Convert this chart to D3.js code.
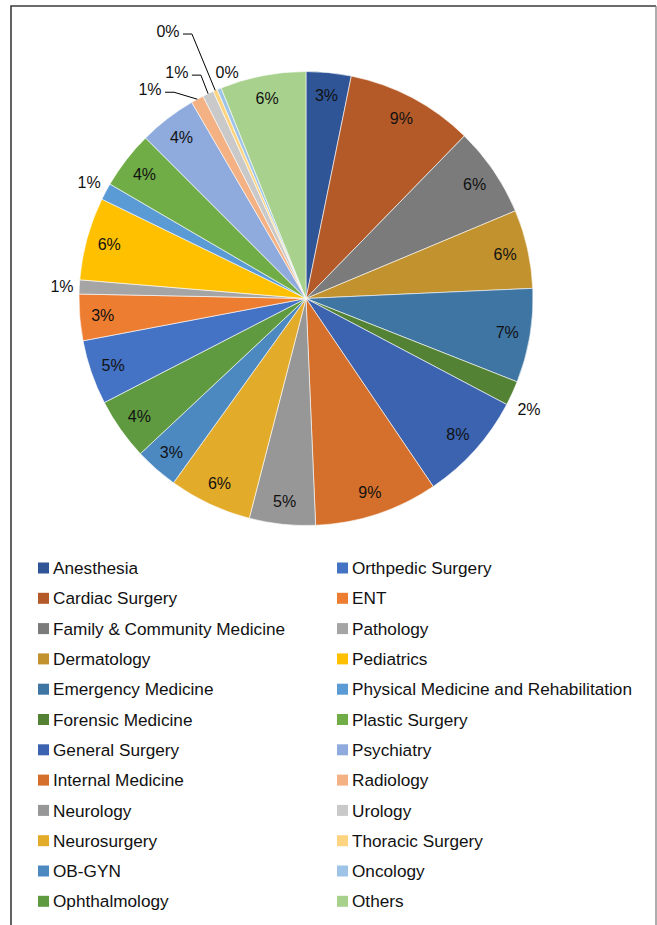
<!DOCTYPE html>
<html>
<head>
<meta charset="utf-8">
<script src="https://cdn.jsdelivr.net/npm/d3@7"></script>
<style>
  html, body { margin: 0; padding: 0; background: #fff; }
  svg { display: block; font-family: "Liberation Sans", Arial, sans-serif; }
</style>
</head>
<body>
<svg id="chart" width="657" height="925"></svg>
<script>
// ---- data ----
const categories = [
  "Anesthesia", "Cardiac Surgery", "Family & Community Medicine", "Dermatology",
  "Emergency Medicine", "Forensic Medicine", "General Surgery", "Internal Medicine",
  "Neurology", "Neurosurgery", "OB-GYN", "Ophthalmology",
  "Orthpedic Surgery", "ENT", "Pathology", "Pediatrics",
  "Physical Medicine and Rehabilitation", "Plastic Surgery", "Psychiatry", "Radiology",
  "Urology", "Thoracic Surgery", "Oncology", "Others"
];
const values = [
  3.2, 9.1, 6.4, 5.6,
  6.7, 1.75, 7.8, 8.8,
  4.7, 5.9, 3.1, 4.4,
  4.6, 3.3, 1.0, 5.9,
  1.2, 4.1, 4.1, 0.9,
  0.8, 0.3, 0.3, 6.1
];
const colors = [
  "#2F5597", "#B45A28", "#7B7B7B", "#C1922E",
  "#3E75A3", "#548235", "#3B63B0", "#D5702C",
  "#979797", "#E2AB29", "#4C89C1", "#5F9A40",
  "#4472C4", "#ED7D31", "#A5A5A5", "#FFC000",
  "#5B9BD5", "#70AD47", "#8FAADC", "#F4B183",
  "#C9C9C9", "#FFD480", "#9DC3E6", "#A9D18E"
];
// label placement style per category: "in" inside, "out" just outside, callouts use polar [deg, radius]
const labelMode = {
  "Forensic Medicine": "free", "Pathology": "out", "Physical Medicine and Rehabilitation": "out",
  "Radiology": "callout", "Urology": "callout", "Thoracic Surgery": "callout", "Oncology": "free"
};
const labelPolar = {
  "Forensic Medicine": [116.4, 249],
  "Radiology": [323.3, 261], "Urology": [330.3, 260.6],
  "Thoracic Surgery": [332.7, 301], "Oncology": [340.8, 240]
};

// ---- layout ----
const svg = d3.select("#chart");
const cx = 306, cy = 298.5, R = 227;
const data = categories.map((c, i) => ({ name: c, value: values[i], color: colors[i] }));
const total = d3.sum(values);
const fmt = d3.format(".0%");

// frame
svg.append("path").attr("d", "M11,925 V6 H656").attr("fill", "none")
  .attr("stroke", "#3c3c3c").attr("stroke-width", 1.6);
svg.append("path").attr("d", "M656,6 V925").attr("fill", "none")
  .attr("stroke", "#8a8a8a").attr("stroke-width", 1.4);

const pie = d3.pie().value(d => d.value).sort(null);
const arcs = pie(data);
const arc = d3.arc().innerRadius(0).outerRadius(R);
const g = svg.append("g").attr("transform", `translate(${cx},${cy})`);

g.selectAll("path.slice").data(arcs).join("path")
  .attr("class", "slice")
  .attr("d", arc)
  .attr("fill", d => d.data.color)
  .attr("stroke", "#ffffff")
  .attr("stroke-width", 0.6);

const polar = (deg, r) => {
  const a = deg * Math.PI / 180;
  return [r * Math.sin(a), -r * Math.cos(a)];
};

const lw = 24, lh = 14;
arcs.forEach(d => {
  const mid = (d.startAngle + d.endAngle) / 2;
  const midDeg = mid * 180 / Math.PI;
  const mode = labelMode[d.data.name] || "in";
  const txt = fmt(d.data.value / total);
  let x, y;
  if (mode === "in") {
    [x, y] = polar(midDeg, 204);
  } else if (mode === "out") {
    const r = R + 5 + (lw / 2) * Math.abs(Math.sin(mid)) + (lh / 2) * Math.abs(Math.cos(mid));
    [x, y] = polar(midDeg, r);
  } else {
    const p = labelPolar[d.data.name];
    [x, y] = polar(p[0], p[1]);
  }
  if (mode === "callout") {
    const [ex, ey] = polar(midDeg, R);
    const sx = x + lw / 2 + 3, ly = y + 3;
    g.append("path")
      .attr("d", `M${sx},${ly} H${sx + 9} L${ex},${ey}`)
      .attr("fill", "none").attr("stroke", "#000").attr("stroke-width", 1);
  }
  g.append("text")
    .attr("x", x).attr("y", y)
    .attr("text-anchor", "middle")
    .attr("dy", "0.36em")
    .attr("font-size", 16)
    .attr("fill", "#111")
    .text(txt);
});

// ---- legend ----
const rows = 12, rowH = 30.3, legY = 568;
const colX = [38, 337];
const leg = svg.append("g");
data.forEach((d, i) => {
  const col = Math.floor(i / rows), row = i % rows;
  const y = legY + row * rowH;
  leg.append("rect")
    .attr("x", colX[col]).attr("y", y - 5.5)
    .attr("width", 11).attr("height", 11)
    .attr("fill", d.color);
  leg.append("text")
    .attr("x", colX[col] + 15).attr("y", y)
    .attr("dy", "0.36em")
    .attr("font-size", 17.2)
    .attr("fill", "#111")
    .text(d.name);
});
</script>
</body>
</html>
